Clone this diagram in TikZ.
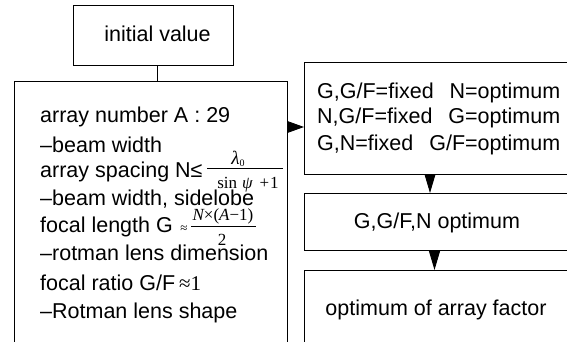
\documentclass[tikz,border=0pt]{standalone}
\usepackage{fontspec}
\setmainfont{Liberation Sans}
\newfontfamily\mathserif{Liberation Serif}
\usetikzlibrary{arrows.meta}
\begin{document}
\begin{tikzpicture}[x=1pt,y=-1pt,
  box/.style={draw, line width=0.9pt, inner sep=0pt, anchor=north west},
  txt/.style={anchor=base west, inner sep=0pt, font=\fontsize{21.5}{25}\selectfont},
  ctxt/.style={anchor=base, inner sep=0pt, font=\fontsize{21.5}{25}\selectfont},
  frac/.style={anchor=base, inner sep=0pt, font=\mathserif\fontsize{17}{19}\selectfont},
  flow/.style={line width=0.9pt},
  rtip/.style={-{Triangle[length=17pt,width=12pt]}, line width=0.9pt},
  dtip/.style={-{Triangle[length=19pt,width=11pt]}, line width=0.9pt}]
\useasboundingbox (0,0) rectangle (567,342);
\clip (0,0) rectangle (567,342);

% boxes
\node[box, minimum width=160.5pt, minimum height=60pt] (init) at (72.5,5) {};
\node[box, minimum width=273.5pt, minimum height=300pt] (big) at (13.5,81) {};
\node[box, minimum width=270pt, minimum height=112pt] (opt1) at (304,62) {};
\node[box, minimum width=270pt, minimum height=57pt] (opt2) at (304,193) {};
\node[box, minimum width=270pt, minimum height=110pt] (opt3) at (304,270) {};

% box texts
\node[ctxt] (initlbl) at (157.5,41.5) {initial value};

\node[txt] (l1) at (40,123) {array number A : 29};
\node[txt] (l2) at (40,152) {–beam width};
\node[txt] (l3) at (40,177) {array spacing N≤};
\node[txt] (l4) at (40,205) {–beam width, sidelobe};
\node[txt] (l5) at (40,232) {focal length G};
\node[txt] (l6) at (40,260) {–rotman lens dimension};
\node[txt] (l7) at (40,290) {focal ratio G/F};
\node[txt] (l8) at (40,318) {–Rotman lens shape};

% N <= lambda_0 / (sin psi + 1)
\node[frac, font=\mathserif\fontsize{19}{20}\selectfont] (n1) at (238,164) {\itshape λ\raisebox{-2.5pt}{\fontsize{10}{11}\selectfont\upshape 0}};
\draw[line width=0.8pt] (207,168) -- (283,168);
\node[frac] (d1) at (248,188) {sin\hspace{5pt}\itshape ψ\upshape\hspace{7pt}+\hspace{1pt}1};

% G ~ N(A-1)/2
\node[frac, font=\mathserif\fontsize{13}{14}\selectfont] (ap1) at (184,232) {≈};
\node[frac] (n2) at (223,220) {\itshape N\upshape ×(\itshape A\upshape −1)};
\draw[line width=0.8pt] (191,226) -- (256,226);
\node[frac] (d2) at (222,245) {2};

% G/F ~ 1
\node[anchor=base west, inner sep=0pt, font=\mathserif\fontsize{21}{25}\selectfont] (ap2) at (l7.base east) {\,≈1};

\node[txt] (r1) at (317,99) {G,G/F=fixed\hspace{10pt} N=optimum};
\node[txt] (r2) at (317,124) {N,G/F=fixed\hspace{10pt} G=optimum};
\node[txt] (r3) at (317,150) {G,N=fixed\hspace{10pt} G/F=optimum};
\node[ctxt] (t2) at (437,228) {G,G/F,N optimum};
\node[ctxt] (t3) at (436,315) {optimum of array factor};

% connectors
\draw[flow] (init.south -| initlbl) -- (big.north -| initlbl);
\coordinate (rowA) at (0,127);
\draw[rtip] (big.east |- rowA) -- (opt1.west |- rowA);
\coordinate (colA) at (430,0);
\coordinate (colB) at (434.5,0);
\draw[dtip] (opt1.south -| colA) -- (opt2.north -| colA);
\draw[dtip] (opt2.south -| colB) -- (opt3.north -| colB);
\end{tikzpicture}
\end{document}
